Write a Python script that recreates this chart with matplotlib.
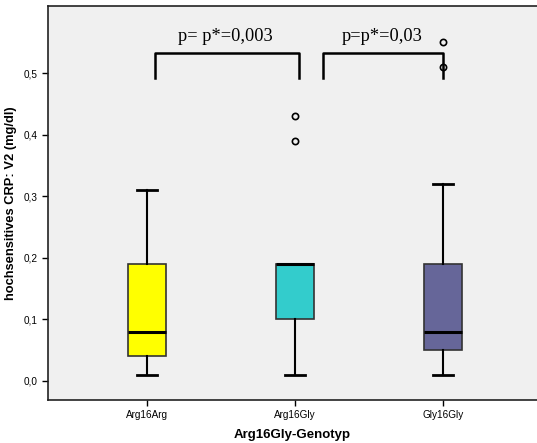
import matplotlib.pyplot as plt

# Boxplot-Kennwerte
genotypes = ['Arg16Arg', 'Arg16Gly', 'Gly16Gly']
whislo = [0.01, 0.01, 0.01]
q1 = [0.04, 0.10, 0.05]
med = [0.08, 0.19, 0.08]
q3 = [0.19, 0.19, 0.19]
whishi = [0.31, 0.19, 0.32]
outliers = [[], [0.39, 0.43], [0.51, 0.55]]
colors = ['#FFFF00', '#33CCCC', '#666699']

yticks = [0.0, 0.1, 0.2, 0.3, 0.4, 0.5]
ytick_labels = ['0,0', '0,1', '0,2', '0,3', '0,4', '0,5']

stats = []
for i in range(len(genotypes)):
    stats.append({'label': genotypes[i], 'whislo': whislo[i], 'q1': q1[i],
                  'med': med[i], 'q3': q3[i], 'whishi': whishi[i],
                  'fliers': outliers[i]})

fig = plt.figure(figsize=(5.37, 4.43), dpi=100)
ax = fig.add_axes([0.0894, 0.097, 0.9106, 0.8895])
ax.set_facecolor('#F0F0F0')

bp = ax.bxp(stats, positions=[1, 2, 3], widths=0.257, patch_artist=True,
            boxprops=dict(edgecolor='#333333', linewidth=1.2),
            medianprops=dict(color='black', linewidth=2.2),
            whiskerprops=dict(color='black', linewidth=1.5),
            capprops=dict(color='black', linewidth=2),
            capwidths=0.135,
            flierprops=dict(marker='o', markersize=4.5, markerfacecolor='none',
                            markeredgecolor='black', markeredgewidth=1.2))
for patch, c in zip(bp['boxes'], colors):
    patch.set_facecolor(c)

# Signifikanz-Klammern
ax.plot([1.054, 1.054, 2.027, 2.027], [0.492, 0.532, 0.532, 0.492],
        color='black', linewidth=1.8)
ax.plot([2.19, 2.19, 3.0, 3.0], [0.492, 0.532, 0.532, 0.492],
        color='black', linewidth=1.8)
ax.text(1.53, 0.545, 'p= p*=0,003', ha='center', va='bottom',
        family='Liberation Serif', fontsize=13.2)
ax.text(2.59, 0.545, 'p=p*=0,03', ha='center', va='bottom',
        family='Liberation Serif', fontsize=13.2)

ax.set_xlim(0.331, 3.635)
ax.set_ylim(-0.031, 0.609)
ax.set_yticks(yticks)
ax.set_yticklabels(ytick_labels)
ax.set_xticks([1, 2, 3])
ax.set_xticklabels(genotypes)
ax.tick_params(labelsize=7.2, length=4, width=1, colors='black')
for lbl in ax.get_xticklabels() + ax.get_yticklabels():
    lbl.set_family('Liberation Sans')

ax.set_xlabel('Arg16Gly-Genotyp', family='Liberation Sans', fontweight='bold',
              fontsize=9.5, labelpad=6)
ax.set_ylabel('hochsensitives CRP: V2 (mg/dl)', family='Liberation Sans',
              fontweight='bold', fontsize=9.3, labelpad=5)

ax.spines['right'].set_visible(False)
for s in ['left', 'bottom', 'top']:
    ax.spines[s].set_linewidth(1.2)
    ax.spines[s].set_color('#222222')

fig.savefig('out.png', dpi=100)
